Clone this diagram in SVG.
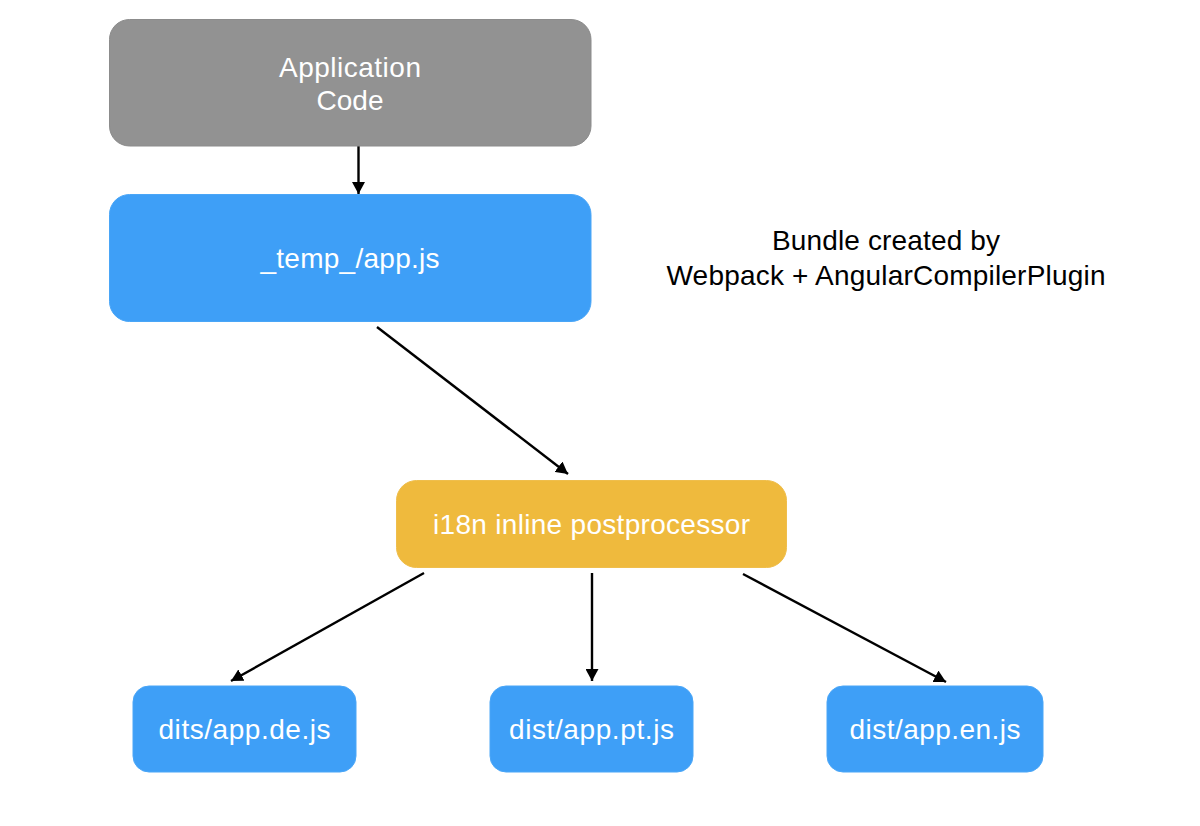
<svg xmlns="http://www.w3.org/2000/svg" width="1200" height="826" viewBox="0 0 1200 826">
<style>
.t{font-family:"Liberation Sans",Arial,Helvetica,sans-serif;font-size:28px;fill:#ffffff;text-anchor:middle}
.b{fill:#000000}
.gray{fill:#929292;stroke:#8c8c8c;stroke-width:1}
.blue{fill:#3e9ff7;stroke:#4aa6f7;stroke-width:1}
.orange{fill:#efba3d;stroke:#efbe4c;stroke-width:1}
.c{stroke:#000;stroke-width:2.4;fill:none;marker-end:url(#ah)}
</style>
<defs>
<marker id="ah" markerUnits="userSpaceOnUse" markerWidth="13" markerHeight="13" refX="12" refY="6.5" orient="auto">
<path d="M0,0 L12,6.5 L0,13 z" fill="#000"/>
</marker>
</defs>
<rect width="1200" height="826" fill="#ffffff"/>
<g id="connectors">
<line class="c" x1="358.5" y1="146" x2="358.5" y2="194"/>
<line class="c" x1="377" y1="327" x2="568" y2="474"/>
<line class="c" x1="424" y1="573" x2="231" y2="681"/>
<line class="c" x1="592" y1="573" x2="592" y2="681"/>
<line class="c" x1="743" y1="574" x2="946" y2="682"/>
</g>
<g id="app-code">
<rect class="gray" x="109.5" y="19.5" width="481.5" height="126.5" rx="20"/>
<text class="t" x="350" y="77" textLength="142">Application</text>
<text class="t" x="350" y="110" textLength="67">Code</text>
</g>
<g id="temp-app">
<rect class="blue" x="109.5" y="194.5" width="481.5" height="127" rx="20"/>
<text class="t" x="350" y="268" textLength="179">_temp_/app.js</text>
</g>
<g id="note">
<text class="t b" x="886" y="250" textLength="228">Bundle created by</text>
<text class="t b" x="886" y="285" textLength="439">Webpack + AngularCompilerPlugin</text>
</g>
<g id="postprocessor">
<rect class="orange" x="396.5" y="480.5" width="390" height="87" rx="20"/>
<text class="t" x="591.5" y="534" textLength="317">i18n inline postprocessor</text>
</g>
<g id="app-de">
<rect class="blue" x="133" y="686" width="223" height="86" rx="16"/>
<text class="t" x="244.5" y="738.5" textLength="172">dits/app.de.js</text>
</g>
<g id="app-pt">
<rect class="blue" x="490" y="686" width="203" height="86" rx="16"/>
<text class="t" x="591.5" y="738.5" textLength="165">dist/app.pt.js</text>
</g>
<g id="app-en">
<rect class="blue" x="827" y="686" width="216" height="86" rx="16"/>
<text class="t" x="935" y="738.5" textLength="171">dist/app.en.js</text>
</g>
</svg>
